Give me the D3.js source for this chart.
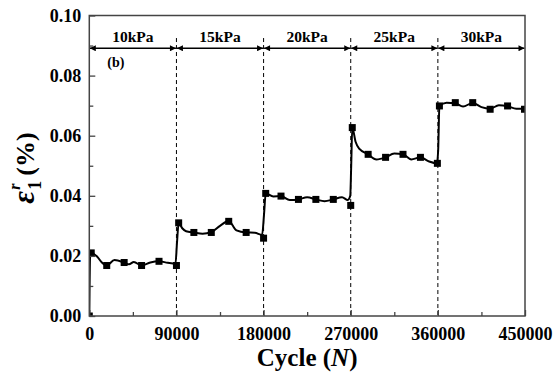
<!DOCTYPE html>
<html>
<head>
<meta charset="utf-8">
<script src="https://cdn.jsdelivr.net/npm/d3@7"></script>
<style>
  body { margin: 0; background: #fff; }
  svg text { font-family: "Liberation Serif", "Times New Roman", serif; font-weight: bold; }
</style>
</head>
<body>
<svg id="chart" width="557" height="378"></svg>
<script>
// stage boundaries (cycles) and their loads
const stageEdges = [0, 90000, 180000, 270000, 360000, 450000];
const stageLabels = ["10kPa", "15kPa", "20kPa", "25kPa", "30kPa"];

// tick values
const xTicks = [0, 90000, 180000, 270000, 360000, 450000];
const xMinorTicks = [45000, 135000, 225000, 315000, 405000];
const yTicks = [0, 0.02, 0.04, 0.06, 0.08, 0.10];
const yMinorTicks = [0.01, 0.03, 0.05, 0.07, 0.09];

// measured points (square markers): [cycle, strain %]
const markerPoints = [
  [0, 0], [2000, 0.0210], [18000, 0.0168], [36000, 0.0178], [54000, 0.0168], [72000, 0.0182], [90000, 0.0168],
  [92300, 0.0310], [108000, 0.0278], [126000, 0.0278], [144000, 0.0315], [162000, 0.0278], [180000, 0.0259],
  [182200, 0.0408], [198000, 0.0399], [216000, 0.0388], [234000, 0.0388], [252000, 0.0388], [270000, 0.0368],
  [271600, 0.0627], [288000, 0.0538], [306000, 0.0528], [324000, 0.0538], [342000, 0.0528], [359500, 0.0508],
  [361600, 0.0699], [378000, 0.0710], [396000, 0.0710], [414000, 0.0688], [432000, 0.0699], [449500, 0.0688]
];

// continuous record (solid curve): [cycle, strain %]
const curvePoints = [
  [0, 0], [800, 0.0195], [2000, 0.0210], [8000, 0.0198], [13000, 0.0178], [18000, 0.0168],
  [26000, 0.0186], [36000, 0.0178], [41000, 0.0172], [46000, 0.0180], [54000, 0.0168],
  [63000, 0.0178], [72000, 0.0182], [81000, 0.0177], [89000, 0.0174], [90500, 0.0240], [92300, 0.0310],
  [96000, 0.0292], [100000, 0.0282], [108000, 0.0278], [117000, 0.0274], [126000, 0.0279],
  [135000, 0.0300], [144000, 0.0316], [152000, 0.0285], [162000, 0.0278], [171000, 0.0277],
  [178500, 0.0270], [180500, 0.0340], [182200, 0.0408],
  [190000, 0.0398], [198000, 0.0399], [207000, 0.0386], [216000, 0.0388], [225000, 0.0395],
  [234000, 0.0388], [243000, 0.0382], [252000, 0.0388], [261000, 0.0395], [267000, 0.0386],
  [269500, 0.0400], [270500, 0.0500], [271600, 0.0627],
  [275000, 0.0580], [279000, 0.0556], [288000, 0.0538], [296500, 0.0521], [306000, 0.0528],
  [315000, 0.0541], [324000, 0.0538], [332500, 0.0521], [342000, 0.0528], [351000, 0.0514],
  [359000, 0.0508], [360300, 0.0550], [361600, 0.0699],
  [369000, 0.0710], [378000, 0.0708], [386000, 0.0697], [396000, 0.0709], [405000, 0.0695],
  [414000, 0.0690], [423000, 0.0701], [432000, 0.0698], [441000, 0.0690], [450000, 0.0690]
];

const margin = { top: 15.5, right: 32, bottom: 62, left: 89.3 };
const svg = d3.select("#chart");
const W = +svg.attr("width"), H = +svg.attr("height");
const innerW = W - margin.left - margin.right;
const innerH = H - margin.top - margin.bottom;

const x = d3.scaleLinear().domain([0, 450000]).range([0, innerW]);
const y = d3.scaleLinear().domain([0, 0.10]).range([innerH, 0]);

const g = svg.append("g").attr("transform", `translate(${margin.left},${margin.top})`);

svg.append("defs").append("clipPath").attr("id", "plot-clip")
  .append("rect").attr("width", innerW).attr("height", innerH);

// dashed stage separators
g.selectAll("line.sep")
  .data(stageEdges.slice(1, -1))
  .join("line")
  .attr("class", "sep")
  .attr("x1", d => x(d)).attr("x2", d => x(d))
  .attr("y1", y(0.0925)).attr("y2", innerH)
  .attr("stroke", "#000").attr("stroke-width", 1).attr("stroke-dasharray", "4,3");

// arrow markers
const defs = svg.select("defs");
defs.append("marker").attr("id", "arrow-end")
  .attr("viewBox", "0 0 10 10").attr("refX", 10).attr("refY", 5)
  .attr("markerWidth", 9).attr("markerHeight", 6).attr("markerUnits", "userSpaceOnUse")
  .attr("orient", "auto")
  .append("path").attr("d", "M0,0L10,5L0,10Z").attr("fill", "#000");
defs.append("marker").attr("id", "arrow-start")
  .attr("viewBox", "0 0 10 10").attr("refX", 0).attr("refY", 5)
  .attr("markerWidth", 9).attr("markerHeight", 6).attr("markerUnits", "userSpaceOnUse")
  .attr("orient", "auto")
  .append("path").attr("d", "M10,0L0,5L10,10Z").attr("fill", "#000");

const stages = stageLabels.map((label, i) => ({ label, from: stageEdges[i], to: stageEdges[i + 1] }));
const arrowY = y(0.0891);

g.selectAll("line.stage")
  .data(stages)
  .join("line")
  .attr("class", "stage")
  .attr("x1", d => x(d.from) + 0.5).attr("x2", d => x(d.to) - 0.5)
  .attr("y1", arrowY).attr("y2", arrowY)
  .attr("stroke", "#000").attr("stroke-width", 1.3)
  .attr("marker-start", "url(#arrow-start)")
  .attr("marker-end", "url(#arrow-end)");

g.selectAll("text.stage")
  .data(stages)
  .join("text")
  .attr("class", "stage")
  .attr("x", d => x((d.from + d.to) / 2))
  .attr("y", arrowY - 6)
  .attr("text-anchor", "middle")
  .attr("font-size", 15.5)
  .text(d => d.label);

g.append("text")
  .attr("x", 18).attr("y", 51)
  .attr("font-size", 14)
  .text("(b)");

// curve + markers
const line = d3.line()
  .x(d => x(d[0]))
  .y(d => y(d[1]))
  .curve(d3.curveMonotoneX);

const plot = g.append("g").attr("clip-path", "url(#plot-clip)");

plot.append("path")
  .datum(curvePoints)
  .attr("fill", "none")
  .attr("stroke", "#000")
  .attr("stroke-width", 2)
  .attr("d", line);

const ms = 7;
plot.selectAll("rect.pt")
  .data(markerPoints)
  .join("rect")
  .attr("class", "pt")
  .attr("x", d => x(d[0]) - ms / 2)
  .attr("y", d => y(d[1]) - ms / 2)
  .attr("width", ms).attr("height", ms)
  .attr("fill", "#000");

// axes (ticks inward)
const axisColor = "#444";

const xAxis = g.append("g").attr("transform", `translate(0,${innerH})`)
  .call(d3.axisBottom(x).tickValues(xTicks).tickSize(-6).tickPadding(11).tickFormat(d3.format("d")));
const xMinor = g.append("g").attr("transform", `translate(0,${innerH})`)
  .call(d3.axisBottom(x).tickValues(xMinorTicks).tickSize(-4).tickFormat(""));

const yAxis = g.append("g")
  .call(d3.axisLeft(y).tickValues(yTicks).tickSize(-6).tickPadding(8).tickFormat(d3.format(".2f")));
const yMinor = g.append("g")
  .call(d3.axisLeft(y).tickValues(yMinorTicks).tickSize(-4).tickFormat(""));

[xAxis, xMinor, yAxis, yMinor].forEach(a => {
  a.select(".domain").remove();
  a.selectAll(".tick line").attr("stroke", axisColor).attr("stroke-width", 1.3);
  a.selectAll(".tick text").attr("fill", "#000").attr("font-size", 18);
});

// frame
g.append("rect")
  .attr("width", innerW).attr("height", innerH)
  .attr("fill", "none").attr("stroke", axisColor).attr("stroke-width", 1.5);

// axis titles
const xTitle = svg.append("text")
  .attr("x", margin.left + innerW / 2).attr("y", 366)
  .attr("text-anchor", "middle")
  .attr("font-size", 25);
xTitle.append("tspan").text("Cycle (");
xTitle.append("tspan").attr("font-style", "italic").text("N");
xTitle.append("tspan").text(")");

const yTitle = svg.append("g").attr("transform", `translate(34,${margin.top + innerH / 2}) rotate(-90)`);
yTitle.append("text")
  .attr("x", -38).attr("y", 0)
  .attr("font-size", 31).attr("font-style", "italic")
  .text("\u03b5");
yTitle.append("text")
  .attr("x", -24).attr("y", -14)
  .attr("font-size", 16).attr("font-style", "italic")
  .text("r");
yTitle.append("text")
  .attr("x", -24).attr("y", 7)
  .attr("font-size", 18)
  .text("1");
yTitle.append("text")
  .attr("x", -10).attr("y", 0)
  .attr("font-size", 26)
  .text("(%)");
</script>
</body>
</html>
